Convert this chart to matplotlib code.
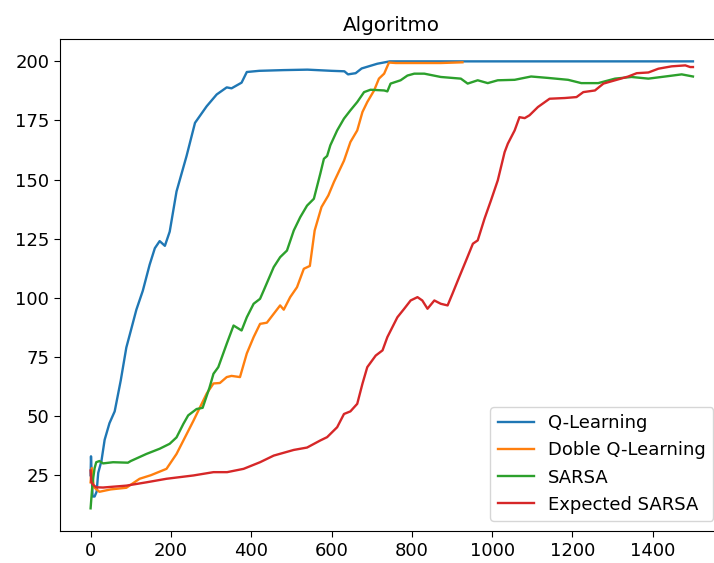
import matplotlib
matplotlib.use('Agg')
import matplotlib.pyplot as plt

# values (episode, mean reward)
q_x = [0, 1, 3, 5, 10, 15, 19, 27, 35, 47, 60, 75, 89, 100, 114, 130, 147, 160, 172, 185, 197,
       214, 239, 260, 289, 314, 339, 351, 376, 389, 420, 480, 540, 600, 632, 641, 660, 675, 714, 745, 1500]
q_y = [25, 33, 24, 16, 16, 18, 26, 31, 40, 47, 52, 65, 79, 86, 95, 103, 114, 121, 124, 122, 128,
       145, 160, 174, 181, 186, 189, 188.6, 191, 195.5, 196, 196.3, 196.5, 196, 195.8, 194.5, 195, 197, 199, 200, 200]

dq_x = [0, 3, 8, 15, 22, 50, 89, 122, 150, 189, 214, 256, 289, 306, 322, 339, 351, 372, 389, 406, 422,
        439, 472, 481, 497, 514, 531, 546, 558, 575, 592, 606, 631, 647, 664, 677, 689, 706, 718, 731,
        743, 760, 872, 926]
dq_y = [22, 28, 20, 19, 18, 19, 19.7, 23.5, 25, 27.7, 34, 48, 59.5, 63.8, 64, 66.5, 67, 66.5, 76.5, 83.4, 89,
        89.5, 96.8, 95, 100.3, 104.5, 112.3, 113.5, 128.5, 138.4, 143.3, 149, 158, 165.9, 170.8, 178.6, 182.8,
        187.7, 192.7, 194.8, 199.5, 199.3, 199.3, 199.6]

s_x = [0, 5, 10, 14, 22, 31, 56, 93, 100, 139, 172, 197, 214, 231, 243, 264, 279, 296, 306, 318, 339,
       356, 376, 389, 406, 422, 431, 456, 472, 489, 506, 522, 539, 556, 572, 581, 589, 597, 614, 631, 647,
       664, 681, 697, 731, 739, 747, 772, 789, 806, 831, 872, 922, 939, 964, 989, 1014, 1056, 1097, 1139,
       1189, 1222, 1264, 1306, 1347, 1389, 1431, 1472, 1500]
s_y = [11, 22, 28, 30.5, 31, 30, 30.5, 30.3, 31, 34, 36.2, 38.3, 41, 46.7, 50.3, 53, 53.5, 62, 67.9, 70.7, 80.6,
       88.3, 86.2, 91.8, 97.5, 99.6, 103.1, 113, 117.2, 120, 128.5, 134.1, 139, 141.9, 152.5, 158.8, 160, 164.5,
       170.8, 175.8, 179.3, 182.8, 187, 188, 187.7, 187.3, 190.6, 192, 194, 194.8, 194.8, 193.4, 192.7, 190.6,
       192, 190.8, 192, 192.2, 193.6, 193, 192.2, 190.8, 190.8, 192.7, 193.4, 192.7, 193.6, 194.5, 193.6]

es_x = [0, 2, 6, 14, 31, 89, 139, 189, 256, 306, 340, 381, 422, 456, 506, 539, 572, 589, 614, 631, 647,
        664, 677, 689, 710, 727, 739, 764, 781, 797, 814, 826, 839, 856, 872, 889, 901, 918, 935, 952, 964,
        981, 997, 1014, 1031, 1039, 1056, 1068, 1081, 1093, 1114, 1143, 1181, 1210, 1227, 1256, 1277, 1306,
        1339, 1360, 1389, 1414, 1447, 1481, 1493, 1500]
es_y = [27, 22, 21, 19.9, 19.8, 20.6, 22, 23.5, 24.9, 26.3, 26.3, 27.7, 30.5, 33.3, 35.7, 36.7, 39.7, 41.1,
        45.3, 50.9, 52, 55.2, 63.7, 70.7, 75.6, 77.8, 83.4, 91.8, 95.4, 98.9, 100.3, 98.9, 95.4, 98.9, 97.5,
        96.8, 101.7, 108.8, 115.8, 122.9, 124.3, 133.5, 141.2, 149.7, 161.6, 165.2, 170.8, 176.4, 176, 177.2,
        180.7, 184.2, 184.5, 184.9, 187, 187.7, 190.6, 192, 193.6, 195, 195.3, 196.9, 197.9, 198.3, 197.6, 197.6]

plt.rcParams['font.size'] = 13
plt.rcParams['xtick.major.size'] = 4.5
plt.rcParams['ytick.major.size'] = 4.5

fig = plt.figure(figsize=(7.14, 5.63), dpi=100)
# the reference is cropped on the right, so the axes runs a little past the edge
ax = fig.add_axes([0.0847, 0.0574, 0.928, 0.8733])

ax.plot(q_x, q_y, lw=1.7, label='Q-Learning')
ax.plot(dq_x, dq_y, lw=1.7, label='Doble Q-Learning')
ax.plot(s_x, s_y, lw=1.7, label='SARSA')
ax.plot(es_x, es_y, lw=1.7, label='Expected SARSA')

ax.set_title('Algoritmo', fontsize=14.3)
ax.legend(loc='lower right', borderaxespad=0.55)

fig.savefig('out.png', dpi=100)
